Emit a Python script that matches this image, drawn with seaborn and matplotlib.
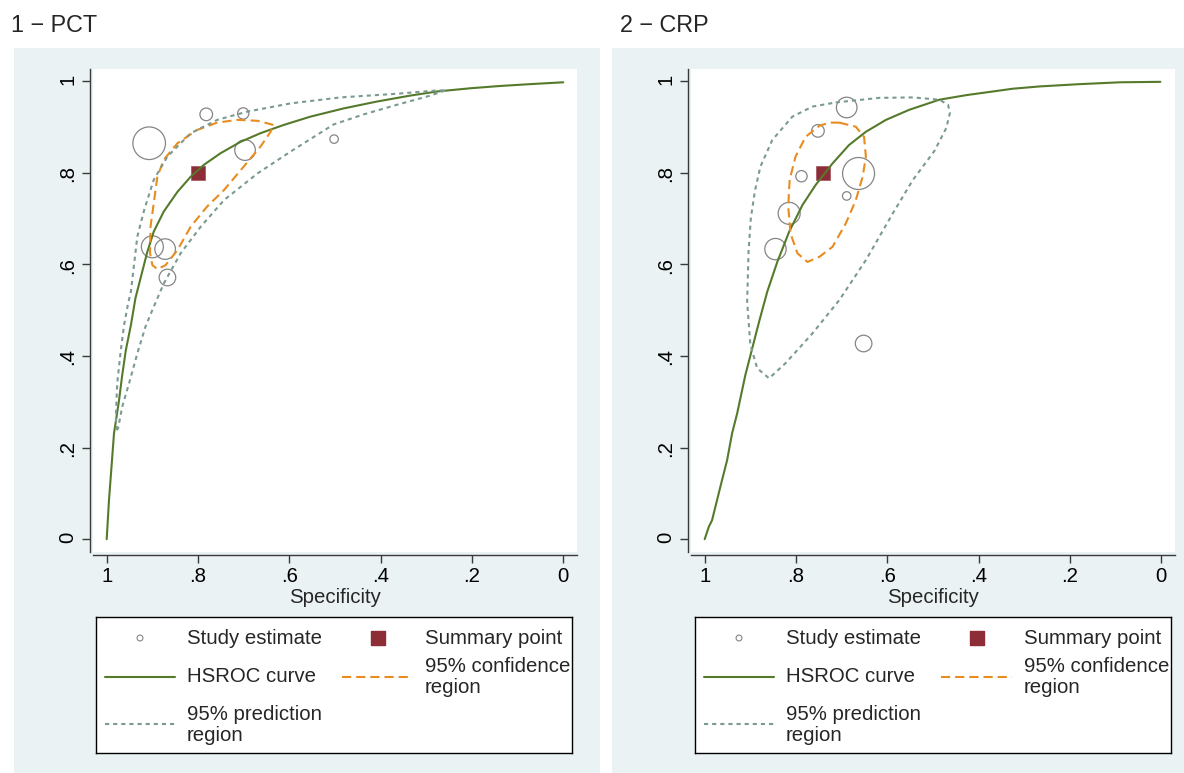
import numpy as np
import seaborn as sns
import matplotlib.pyplot as plt
from matplotlib.patches import Rectangle

# ---------------- data ----------------
# panel 1 - PCT
pct_spec = [0.907, 0.782, 0.701, 0.502, 0.697, 0.900, 0.872, 0.867]
pct_sens = [0.864, 0.927, 0.929, 0.873, 0.849, 0.638, 0.633, 0.571]
pct_weight = [266, 40, 32, 18, 106, 121, 106, 69]
pct_summary_spec = [0.80]
pct_summary_sens = [0.80]

pct_curve_spec = [1.0, 0.995, 0.990, 0.984, 0.973, 0.966, 0.958, 0.947, 0.937,
                  0.926, 0.911, 0.897, 0.875, 0.845, 0.816, 0.787, 0.751, 0.707,
                  0.663, 0.612, 0.554, 0.481, 0.408, 0.335, 0.276, 0.203, 0.138,
                  0.072, 0.0]
pct_curve_sens = [0.0, 0.085, 0.151, 0.231, 0.303, 0.358, 0.413, 0.467, 0.526,
                  0.569, 0.627, 0.671, 0.715, 0.758, 0.791, 0.817, 0.842, 0.867,
                  0.886, 0.904, 0.922, 0.940, 0.955, 0.968, 0.977, 0.984, 0.989,
                  0.993, 0.997]

pct_conf_spec = [0.635, 0.670, 0.714, 0.758, 0.802, 0.845, 0.875, 0.889, 0.896,
                 0.904, 0.905, 0.900, 0.889, 0.871, 0.845, 0.816, 0.780, 0.743,
                 0.700, 0.663, 0.641]
pct_conf_sens = [0.904, 0.913, 0.915, 0.909, 0.893, 0.864, 0.828, 0.791, 0.740,
                 0.682, 0.624, 0.598, 0.589, 0.598, 0.631, 0.682, 0.726, 0.762,
                 0.813, 0.857, 0.889]

pct_pred_spec = [0.978, 0.980, 0.977, 0.969, 0.962, 0.953, 0.947, 0.940, 0.933,
                 0.918, 0.897, 0.867, 0.816, 0.758, 0.692, 0.597, 0.488, 0.364,
                 0.291, 0.256, 0.291, 0.364, 0.437, 0.503, 0.597, 0.670, 0.743,
                 0.794, 0.838, 0.875, 0.900, 0.915, 0.933, 0.951, 0.966, 0.975]
pct_pred_sens = [0.238, 0.267, 0.340, 0.413, 0.467, 0.515, 0.540, 0.600, 0.660,
                 0.718, 0.784, 0.835, 0.886, 0.915, 0.933, 0.951, 0.964, 0.972,
                 0.978, 0.980, 0.968, 0.948, 0.927, 0.905, 0.846, 0.798, 0.740,
                 0.682, 0.624, 0.558, 0.500, 0.464, 0.405, 0.340, 0.289, 0.242]

# panel 2 - CRP
crp_spec = [0.689, 0.752, 0.788, 0.663, 0.689, 0.815, 0.845, 0.652]
crp_sens = [0.942, 0.891, 0.792, 0.798, 0.749, 0.711, 0.633, 0.427]
crp_weight = [106, 40, 32, 256, 18, 121, 114, 69]
crp_summary_spec = [0.74]
crp_summary_sens = [0.80]

crp_curve_spec = [1.0, 0.991, 0.984, 0.973, 0.962, 0.951, 0.940, 0.929, 0.911,
                  0.896, 0.881, 0.863, 0.841, 0.815, 0.786, 0.757, 0.720, 0.684,
                  0.647, 0.603, 0.552, 0.486, 0.427, 0.354, 0.325, 0.266, 0.178,
                  0.090, 0.002]
crp_curve_sens = [0.0, 0.027, 0.041, 0.085, 0.129, 0.172, 0.231, 0.274, 0.358,
                  0.416, 0.474, 0.540, 0.605, 0.671, 0.729, 0.773, 0.820, 0.860,
                  0.889, 0.915, 0.937, 0.959, 0.969, 0.979, 0.983, 0.988, 0.993,
                  0.997, 0.998]

crp_conf_spec = [0.705, 0.669, 0.651, 0.647, 0.654, 0.669, 0.691, 0.720, 0.749,
                 0.775, 0.797, 0.812, 0.817, 0.814, 0.801, 0.779, 0.749, 0.727]
crp_conf_sens = [0.909, 0.900, 0.878, 0.835, 0.791, 0.740, 0.689, 0.638, 0.616,
                 0.605, 0.624, 0.667, 0.726, 0.784, 0.835, 0.878, 0.902, 0.909]

crp_pred_spec = [0.713, 0.618, 0.544, 0.486, 0.467, 0.463, 0.471, 0.497, 0.544,
                 0.588, 0.647, 0.705, 0.764, 0.823, 0.859, 0.885, 0.900, 0.907,
                 0.904, 0.899, 0.890, 0.878, 0.852, 0.808, 0.764]
crp_pred_sens = [0.953, 0.963, 0.964, 0.959, 0.948, 0.930, 0.897, 0.847, 0.784,
                 0.711, 0.609, 0.522, 0.449, 0.384, 0.351, 0.373, 0.424, 0.518,
                 0.627, 0.700, 0.760, 0.813, 0.871, 0.922, 0.944]

tick_vals = [0, 0.2, 0.4, 0.6, 0.8, 1]
tick_labels = ["0", ".2", ".4", ".6", ".8", "1"]
panel_titles = ["1 \u2212 PCT", "2 \u2212 CRP"]
legend_labels = ["Study estimate", "Summary point", "HSROC curve",
                 "95% confidence\nregion", "95% prediction\nregion"]

# ---------------- style ----------------
sns.set_style("ticks")
plt.rcParams['font.family'] = ['Liberation Sans', 'DejaVu Sans']

BG = "#eaf2f3"
GREEN = "#557a2b"
ORANGE = "#e88c1e"
PRED = "#7a9a92"
RED = "#8c2d38"
CIRC = "#858585"
AXC = "#3a3a3a"
FS = 14.7
DASH = (0, (4.4, 2.4))
DOT = (0, (2.0, 1.9))
LW = 1.5

W, H = 1184, 773
fig = plt.figure(figsize=(W / 100, H / 100), dpi=100)

# grey panel backgrounds
fig.add_artist(Rectangle((14 / W, 0), 586 / W, 725 / H, transform=fig.transFigure,
                         facecolor=BG, edgecolor="none", zorder=-1))
fig.add_artist(Rectangle((612 / W, 0), 572 / W, 725 / H, transform=fig.transFigure,
                         facecolor=BG, edgecolor="none", zorder=-1))


def close(v):
    return list(v) + [v[0]]


def draw_panel(left_px, title_px, title, spec, sens, weight, s_spec, s_sens,
               c_spec, c_sens, cf_spec, cf_sens, pr_spec, pr_sens):
    ax = fig.add_axes([left_px / W, 1 - 552 / H, 484 / W, 483 / H])
    ax.set_facecolor("white")
    wmin, wmax = min(weight), max(weight)
    sns.scatterplot(x=spec, y=sens, size=weight, sizes=(2.07 * wmin, 2.07 * wmax),
                    size_norm=(wmin, wmax), facecolor="none", edgecolor=CIRC,
                    linewidth=0.9, legend=False, ax=ax, zorder=2)
    sns.scatterplot(x=s_spec, y=s_sens, marker="s", s=112, color=RED,
                    edgecolor="#a0505a", linewidth=0.5, legend=False, ax=ax, zorder=3)
    sns.lineplot(x=c_spec, y=c_sens, sort=False, estimator=None, color=GREEN,
                 linewidth=LW, ax=ax, zorder=4)
    sns.lineplot(x=close(cf_spec), y=close(cf_sens), sort=False, estimator=None,
                 color=ORANGE, linewidth=LW, linestyle=DASH, ax=ax, zorder=4)
    sns.lineplot(x=close(pr_spec), y=close(pr_sens), sort=False, estimator=None,
                 color=PRED, linewidth=LW, linestyle=DOT, ax=ax, zorder=4)

    ax.set_xlim(1.03, -0.03)
    ax.set_ylim(-0.028, 1.026)
    ax.set_xticks(tick_vals)
    ax.set_xticklabels(tick_labels)
    ax.set_yticks(tick_vals)
    ax.set_yticklabels(tick_labels)
    ax.tick_params(direction="out", length=6, width=1, color=AXC,
                   labelsize=FS, labelcolor="black", pad=2)
    ax.tick_params(axis="y", labelrotation=90, pad=3)
    for lab in ax.get_yticklabels():
        lab.set_va("center")
    sns.despine(ax=ax)
    for side in ["left", "bottom"]:
        ax.spines[side].set_position(("outward", 2.5))
        ax.spines[side].set_color(AXC)
        ax.spines[side].set_linewidth(1.0)
    ax.set_xlabel("Specificity", fontsize=FS, labelpad=2)
    ax.set_ylabel("")
    fig.text(title_px / W, 1 - 25 / H, title, fontsize=16.8,
             ha="left", va="center")
    return ax


def draw_key(box_left):
    lax = fig.add_axes([box_left / W, 1 - 753 / H, 476 / W, 136 / H])
    lax.set_xlim(0, 476)
    lax.set_ylim(136, 0)
    lax.set_xticks([])
    lax.set_yticks([])
    lax.set_facecolor("white")
    for sp in lax.spines.values():
        sp.set_visible(True)
        sp.set_color("black")
        sp.set_linewidth(1.0)
    lax.scatter([44], [21], s=18, facecolor="none", edgecolor=CIRC, linewidth=0.8)
    lax.scatter([282], [21], marker="s", s=112, color=RED)
    lax.plot([9, 79], [60, 60], color=GREEN, lw=LW)
    lax.plot([246, 317], [60, 60], color=ORANGE, lw=LW, ls=DASH)
    lax.plot([9, 79], [107, 107], color=PRED, lw=LW, ls=DOT)
    pos = [(91, 21), (329, 21), (91, 60), (329, 60), (91, 108)]
    for (tx, ty), lab in zip(pos, legend_labels):
        lax.text(tx, ty, lab, fontsize=FS, ha="left", va="center", linespacing=1.1)


draw_panel(93, 11, panel_titles[0], pct_spec, pct_sens, pct_weight,
           pct_summary_spec, pct_summary_sens, pct_curve_spec, pct_curve_sens,
           pct_conf_spec, pct_conf_sens, pct_pred_spec, pct_pred_sens)
draw_panel(691, 620, panel_titles[1], crp_spec, crp_sens, crp_weight,
           crp_summary_spec, crp_summary_sens, crp_curve_spec, crp_curve_sens,
           crp_conf_spec, crp_conf_sens, crp_pred_spec, crp_pred_sens)
draw_key(96)
draw_key(695)

fig.savefig("out.png", dpi=100)
